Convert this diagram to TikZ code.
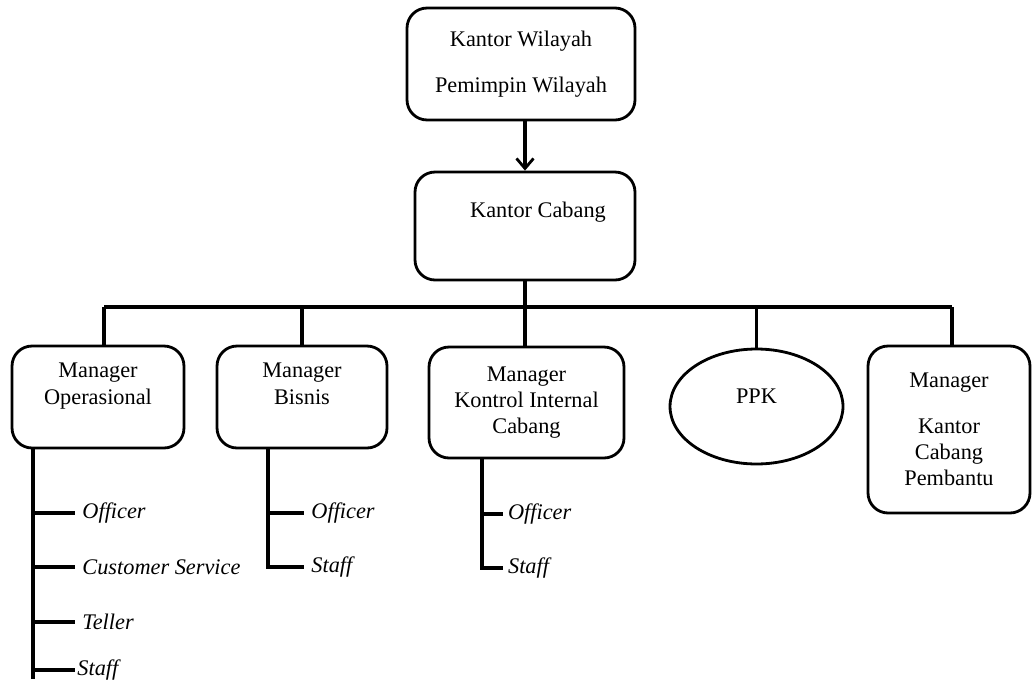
\documentclass[tikz,border=0pt]{standalone}
\usepackage{fontspec}
\setmainfont{Liberation Serif}
\usepackage{tikz}
\usetikzlibrary{positioning,arrows.meta,shapes.geometric}

\begin{document}
\begin{tikzpicture}[x=0.02cm,y=-0.02cm,line width=1.8pt,
  font=\fontsize{12.7}{15}\selectfont,
  box/.style={draw,rounded corners=0.4cm,align=center,inner sep=2pt,line width=1.6pt},
  oval/.style={draw,ellipse,align=center,inner sep=0pt,line width=1.6pt},
  item/.style={anchor=west,font=\fontsize{12.7}{15}\selectfont\itshape},
  arr/.style={-{Straight Barb[length=2mm,width=3.4mm,line width=1.6pt]}}]

\useasboundingbox (0,0) rectangle (1033,686);

\node[box,minimum width=4.56cm,minimum height=2.24cm] (wil) at (521,64) {Kantor Wilayah\\[0.39cm]Pemimpin Wilayah};
\node[box,minimum width=4.4cm,minimum height=2.16cm] (cab) at (525,226) {\hspace*{0.52cm}Kantor Cabang\\[0.11cm]\mbox{}};

\node[box,minimum width=3.44cm,minimum height=2.04cm] (op) at (98,397) {Manager\\Operasional\\\mbox{}};
\node[box,minimum width=3.4cm,minimum height=2.04cm] (bis) at (302,397) {Manager\\Bisnis\\\mbox{}};
\node[box,minimum width=3.9cm,minimum height=2.22cm] (kic) at (526.5,402.5) {Manager\\Kontrol Internal\\Cabang};
\node[oval,minimum width=3.46cm,minimum height=2.3cm] (ppk) at (756.5,406.5) {PPK\\[-0.13cm]\mbox{}};
\node[box,minimum width=3.24cm,minimum height=3.34cm] (kcp) at (949,429.5) {Manager\\[0.38cm]Kantor\\Cabang\\Pembantu};

\draw[arr] (wil.south -| cab.north) -- (cab.north);
\draw (cab.south) -- (cab.south |- kic.north);

%bus
\coordinate (busL) at (104,307);
\coordinate (busR) at (952,307);
\draw (busL) -- (busR);
\draw (busL) -- (busL |- op.north);
\draw (bis.north) -- (bis.north |- busL);
\draw (ppk.north) -- (ppk.north |- busL);
\draw (busR) -- (busR |- kcp.north);

%operasional
\node[item] (op1) at (75,513) {Officer};
\node[item] (op2) at (75,567) {Customer Service};
\node[item] (op3) at (75,622) {Teller};
\node[item,inner xsep=0.5pt] (op4) at (75,670) {Staff};
\coordinate (opE) at (33,679);
\draw (opE |- op.south) -- (opE);
\draw (opE |- op1) -- (op1.west);
\draw (opE |- op2) -- (op2.west);
\draw (opE |- op3) -- (op3.west);
\draw (opE |- op4) -- (op4.west);

%bisnis
\node[item] (bis1) at (304,513) {Officer};
\node[item] (bis2) at (304,567) {Staff};
\coordinate (bisE) at (268,569);
\draw (bisE |- bis.south) -- (bisE);
\draw (bisE |- bis1) -- (bis1.west);
\draw (bisE |- bis2) -- (bis2.west);

%kontrol internal
\node[item,inner xsep=2pt] (kic1) at (503,514) {Officer};
\node[item,inner xsep=2pt] (kic2) at (503,568) {Staff};
\coordinate (kicE) at (482,570);
\draw (kicE |- kic.south) -- (kicE);
\draw (kicE |- kic1) -- (kic1.west);
\draw (kicE |- kic2) -- (kic2.west);

\end{tikzpicture}
\end{document}
